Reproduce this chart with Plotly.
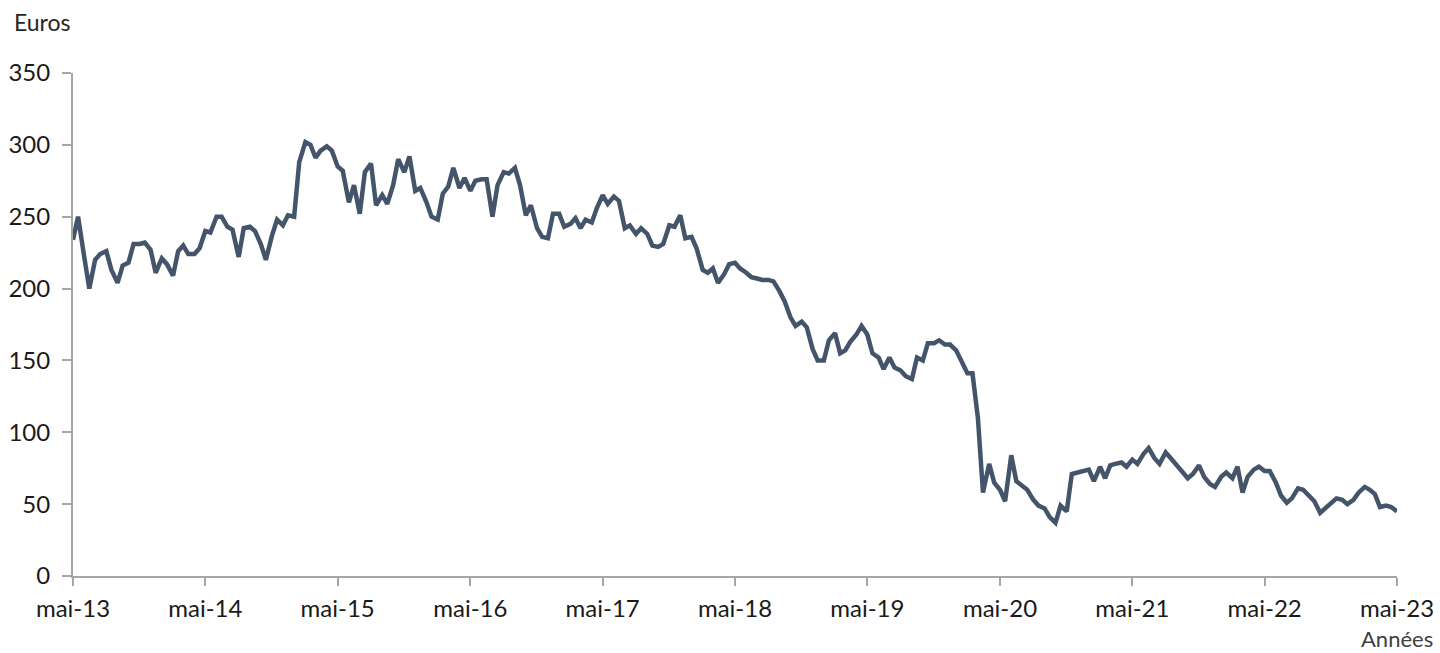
import pandas as pd
import plotly.graph_objects as go

# Semi-monthly observations (1st and 15th of each month), May 2013 -> May 2023
dates = pd.date_range("2013-05-01", periods=241, freq="SMS")

prices = [
    234, 250, 222, 200, 220, 224, 226, 213, 204, 216,
    218, 231, 231, 232, 227, 211, 221, 217, 209, 226,
    230, 224, 224, 228, 240, 239, 250, 250, 243, 241,
    222, 242, 243, 240, 231, 220, 237, 248, 244, 251,
    250, 288, 302, 300, 291, 296, 299, 296, 285, 282,
    260, 272, 252, 281, 287, 258, 265, 259, 272, 290,
    281, 292, 268, 270, 260, 250, 248, 266, 271, 284,
    270, 277, 268, 275, 276, 276, 250, 272, 281, 280,
    284, 272, 251, 258, 242, 236, 235, 252, 252, 243,
    245, 249, 242, 248, 246, 256, 265, 259, 264, 261,
    242, 244, 238, 242, 238, 230, 229, 231, 244, 243,
    251, 235, 236, 228, 213, 211, 214, 204, 210, 217,
    218, 214, 211, 208, 207, 206, 206, 205, 198, 191,
    180, 174, 177, 173, 158, 150, 150, 164, 169, 155,
    157, 163, 168, 174, 168, 155, 152, 144, 152, 145,
    143, 139, 137, 152, 150, 162, 162, 164, 161, 161,
    157, 150, 141, 141, 110, 58, 78, 65, 60, 52,
    84, 66, 63, 60, 53, 49, 47, 41, 37, 49,
    45, 71, 72, 73, 74, 66, 76, 68, 77, 78,
    79, 76, 81, 78, 85, 89, 82, 78, 86, 82,
    77, 73, 68, 71, 77, 69, 64, 62, 69, 72,
    68, 76, 58, 69, 74, 76, 73, 73, 65, 56,
    51, 54, 61, 60, 55, 52, 44, 47, 50, 54,
    53, 50, 53, 58, 62, 60, 57, 48, 49, 48,
    45,
]

tick_dates = ["2013-05-01", "2014-05-01", "2015-05-01", "2016-05-01", "2017-05-01",
              "2018-05-01", "2019-05-01", "2020-05-01", "2021-05-01", "2022-05-01",
              "2023-05-01"]
tick_labels = ["mai-13", "mai-14", "mai-15", "mai-16", "mai-17", "mai-18",
               "mai-19", "mai-20", "mai-21", "mai-22", "mai-23"]
y_ticks = [0, 50, 100, 150, 200, 250, 300, 350]

FONT = "Lato"
AXIS_COLOR = "#A6A6A6"
PW, PH = 1324, 503  # plot area size in px

fig = go.Figure()
fig.add_trace(go.Scatter(
    x=dates, y=prices, mode="lines",
    line=dict(color="#44546A", width=4.5),
    hoverinfo="x+y", showlegend=False,
))

fig.update_layout(
    width=1440, height=653,
    margin=dict(l=73, r=43, t=73, b=77, autoexpand=False),
    paper_bgcolor="white", plot_bgcolor="white",
    font=dict(family=FONT, size=24, color="#1A1A1A"),
    xaxis=dict(
        type="date", automargin=False,
        range=[tick_dates[0], tick_dates[-1]],
        tickmode="array", tickvals=tick_dates, ticktext=tick_labels,
        showgrid=False, zeroline=False,
        showline=True, linecolor=AXIS_COLOR, linewidth=2,
        ticks="outside", ticklen=8, tickwidth=2, tickcolor=AXIS_COLOR,
        ticklabelstandoff=2,
        fixedrange=True,
    ),
    yaxis=dict(
        automargin=False,
        range=[0, 350],
        tickmode="array", tickvals=y_ticks,
        showgrid=False, zeroline=False,
        showline=True, linecolor=AXIS_COLOR, linewidth=2,
        ticks="outside", ticklen=9, tickwidth=2, tickcolor=AXIS_COLOR,
        ticklabelstandoff=7,
        fixedrange=True,
    ),
    annotations=[
        dict(text="Euros", xref="paper", yref="paper",
             x=-61 / PW, y=1 + 51 / PH, xanchor="left", yanchor="middle",
             showarrow=False, font=dict(family=FONT, size=23, color="#262626")),
        dict(text="Années", xref="paper", yref="paper",
             x=1 + 37 / PW, y=-62 / PH, xanchor="right", yanchor="middle",
             borderpad=0,
             showarrow=False, font=dict(family=FONT, size=22, color="#404040")),
    ],
)

fig.write_html(
    "out.html",
    config={"displayModeBar": False},
    post_script="document.body.style.margin='0';document.body.style.overflow='hidden';",
)
